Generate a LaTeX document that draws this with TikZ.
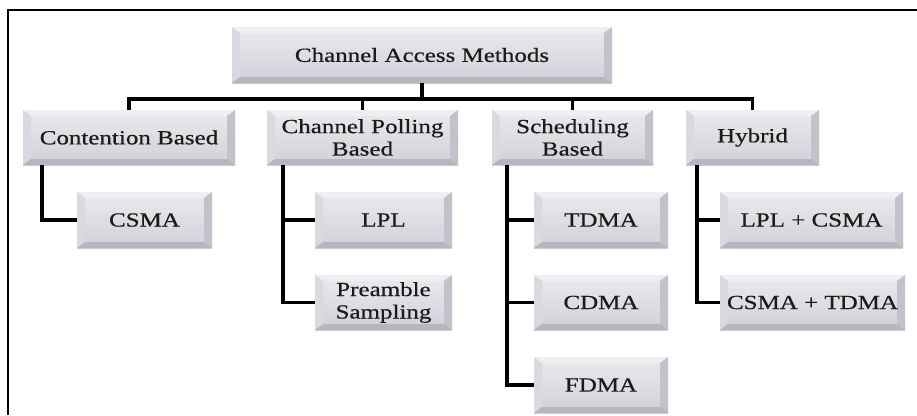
\documentclass[tikz,border=0pt]{standalone}
\usepackage{fontspec}
\setmainfont[FakeStretch=1.25, FakeBold=0.6]{Liberation Serif}
\definecolor{facetop}{HTML}{EAEAEE}
\definecolor{facebot}{HTML}{D0D0D7}
\definecolor{bevtop}{HTML}{EFEFF3}
\definecolor{bevleft}{HTML}{D9D9DF}
\definecolor{bevright}{HTML}{C2C2CA}
\definecolor{bevbot}{HTML}{B6B6BE}
\definecolor{boxtext}{HTML}{1E1A18}
\newcommand{\boxfont}{\fontsize{20}{22.5}\selectfont}
\tikzset{
  box/.style={inner sep=0pt, align=center, font=\boxfont, text=boxtext,
    minimum height=56pt, top color=facetop, bottom color=facebot,
    path picture={
      \coordinate (nw) at (path picture bounding box.north west);
      \coordinate (ne) at (path picture bounding box.north east);
      \coordinate (sw) at (path picture bounding box.south west);
      \coordinate (se) at (path picture bounding box.south east);
      \fill[bevtop] (nw) -- (ne) -- ([xshift=-8pt,yshift=-6pt]ne) -- ([xshift=8pt,yshift=-6pt]nw) -- cycle;
      \fill[bevleft] (nw) -- (sw) -- ([xshift=8pt,yshift=6pt]sw) -- ([xshift=8pt,yshift=-6pt]nw) -- cycle;
      \fill[bevright] (ne) -- (se) -- ([xshift=-8pt,yshift=6pt]se) -- ([xshift=-8pt,yshift=-6pt]ne) -- cycle;
      \fill[bevbot] (sw) -- (se) -- ([xshift=-8pt,yshift=6pt]se) -- ([xshift=8pt,yshift=6pt]sw) -- cycle;
    }},
  link/.style={line width=3.5pt, line join=miter}
}
\begin{document}
\begin{tikzpicture}[x=1pt, y=-1pt]
        \useasboundingbox (0,0) rectangle (917,415);
        \draw [line width=1.5pt] (8,415) -- (8,10) -- (917,10);
        \node [box, minimum width=380pt] (root) at (422, 55) {Channel Access Methods};
        \node [box, minimum width=212pt, minimum height=55pt] (cont) at (129, 137.5) {Contention Based};
        \node [box, minimum width=191pt, minimum height=55pt] (poll) at (362.5, 137.5) {Channel Polling\\Based};
        \node [box, minimum width=161pt, minimum height=55pt] (sched) at (572.5, 137.5) {Scheduling\\Based};
        \node [box, minimum width=133pt, minimum height=55pt] (hyb) at (752.5, 137.5) {Hybrid};
        \node [box, minimum width=135pt] (csma) at (144.5, 220) {CSMA};
        \node [box, minimum width=137pt] (lpl) at (383.5, 220) {LPL};
        \node [box, minimum width=137pt, minimum height=55pt] (pre) at (383.5, 302.5) {Preamble\\Sampling};
        \node [box, minimum width=134pt] (tdma) at (601, 220) {TDMA};
        \node [box, minimum width=134pt, minimum height=55pt] (cdma) at (601, 302.5) {CDMA};
        \node [box, minimum width=134pt] (fdma) at (601, 385) {FDMA};
        \node [box, minimum width=183pt] (lplcsma) at (811.5, 220) {LPL + CSMA};
        \node [box, minimum width=185pt, minimum height=55pt] (csmatdma) at (812.5, 302.5) {CSMA + TDMA};
        \draw [link] (root.south) -- ++(0, 16) -| (cont.north);
        \draw [link] (root.south) -- ++(0, 16) -| (poll.north);
        \draw [link] (root.south) -- ++(0, 16) -| (sched.north);
        \draw [link] (root.south) -- ++(0, 16) -| (hyb.north);
        \draw [link] ([xshift=19pt]cont.south west) |- (csma.west);
        \draw [link] ([xshift=16pt]poll.south west) |- (lpl.west);
        \draw [link] ([xshift=16pt]poll.south west) |- (pre.west);
        \draw [link] ([xshift=15pt]sched.south west) |- (tdma.west);
        \draw [link] ([xshift=15pt]sched.south west) |- (cdma.west);
        \draw [link] ([xshift=15pt]sched.south west) |- (fdma.west);
        \draw [link] ([xshift=11pt]hyb.south west) |- (lplcsma.west);
        \draw [link] ([xshift=11pt]hyb.south west) |- (csmatdma.west);
\end{tikzpicture}
\end{document}
